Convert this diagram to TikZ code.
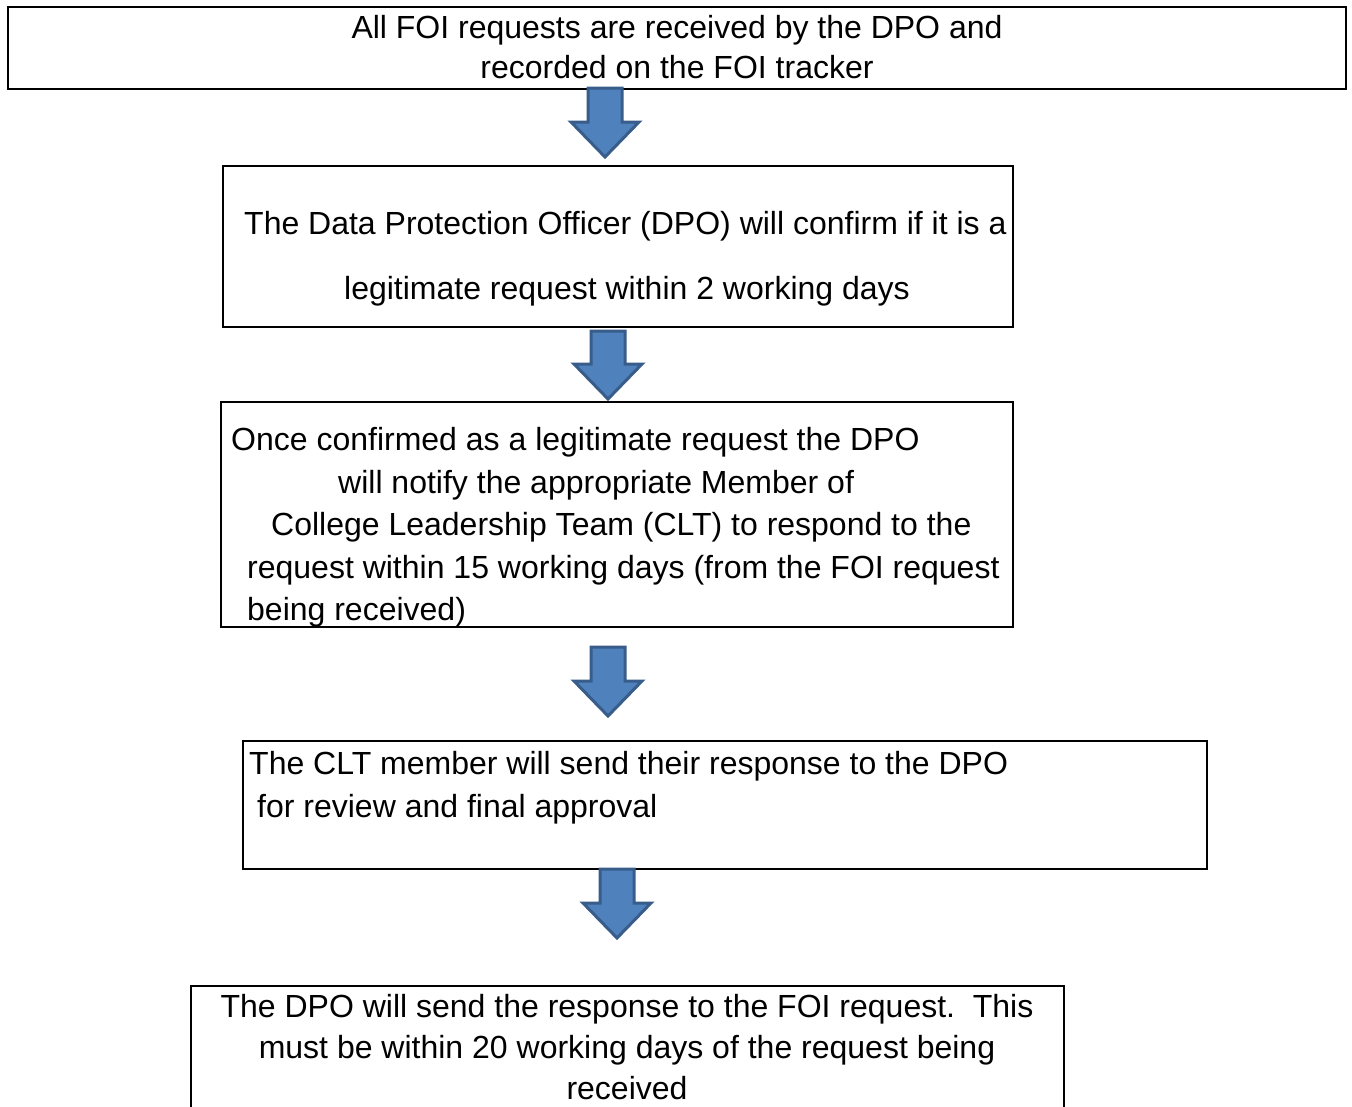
\documentclass[tikz,border=0pt]{standalone}
\usepackage{fontspec}
\setmainfont{Liberation Sans}
\definecolor{arrowfill}{HTML}{4F81BD}
\definecolor{arrowline}{HTML}{385D8A}
\tikzset{
  boxsty/.style={draw=black, line width=2pt, fill=white},
  txt/.style={inner sep=0pt, font=\fontsize{32}{38}\selectfont},
  arrowsty/.style={fill=arrowfill, draw=arrowline, line width=3pt, line join=miter},
}
\newcommand\blockarrow[4]{%
  \coordinate (#1) at (#2,#3);
  \draw[arrowsty] ({#2-17},{#3}) -- ({#2+17},{#3}) -- ({#2+17},{#4-35}) -- ({#2+34},{#4-35})
    -- ({#2},{#4}) -- ({#2-34},{#4-35}) -- ({#2-17},{#4-35}) -- cycle;}
\begin{document}
\begin{tikzpicture}[x=1pt,y=-1pt]
\useasboundingbox (0,0) rectangle (1352,1106);
\clip (0,0) rectangle (1352,1106);
\fill[white] (0,0) rectangle (1352,1106);
% boxes
\draw[boxsty] (8,7) rectangle (1346,89) node[pos=0] (b1) {};
\draw[boxsty] (223,166) rectangle (1013,327) node[pos=0] (b2) {};
\draw[boxsty] (221,402) rectangle (1013,627) node[pos=0] (b3) {};
\draw[boxsty] (243,741) rectangle (1207,869) node[pos=0] (b4) {};
\draw[boxsty] (191,986) rectangle (1064,1130) node[pos=0] (b5) {};
% arrows
\blockarrow{a1}{605}{88}{157}
\blockarrow{a2}{608}{331}{399}
\blockarrow{a3}{608}{647}{716}
\blockarrow{a4}{617}{869}{938}
% texts
\node[txt, anchor=base] (t11) at (677,38) {All FOI requests are received by the DPO and};
\node[txt, anchor=base] (t12) at (677,78) {recorded on the FOI tracker};
\node[txt, anchor=base west] (t21) at (244,234) {The Data Protection Officer (DPO) will confirm if it is a};
\node[txt, anchor=base] (t22) at (627,299) {legitimate request within 2 working days};
\node[txt, anchor=base west] (t31) at (231,450) {Once confirmed as a legitimate request the DPO};
\node[txt, anchor=base west] (t32) at (338,493) {will notify the appropriate Member of};
\node[txt, anchor=base west] (t33) at (271,535) {College Leadership Team (CLT) to respond to the};
\node[txt, anchor=base west] (t34) at (247,578) {request within 15 working days (from the FOI request};
\node[txt, anchor=base west] (t35) at (247,620) {being received)};
\node[txt, anchor=base west] (t41) at (249,774) {The CLT member will send their response to the DPO};
\node[txt, anchor=base west] (t42) at (257,817) {for review and final approval};
\node[txt, anchor=base] (t51) at (627,1017) {The DPO will send the response to the FOI request.\ \ This};
\node[txt, anchor=base] (t52) at (627,1058) {must be within 20 working days of the request being};
\node[txt, anchor=base] (t53) at (627,1099) {received};
\end{tikzpicture}
\end{document}
